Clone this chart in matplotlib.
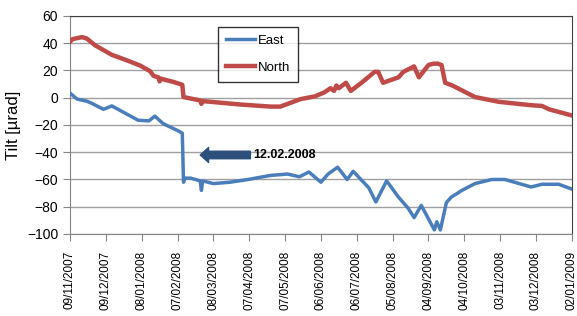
import numpy as np
import pandas as pd
import matplotlib
matplotlib.use("Agg")
import matplotlib.pyplot as plt
import matplotlib.dates as mdates

plt.rcParams['font.family'] = ['Liberation Sans', 'DejaVu Sans']

# North tilt (red)
north_dates = ['2007-11-09', '2007-11-11', '2007-11-19', '2007-11-23', '2007-11-30',
               '2007-12-14', '2007-12-28', '2008-01-07', '2008-01-15', '2008-01-18',
               '2008-01-22', '2008-01-23', '2008-01-24', '2008-02-04', '2008-02-11',
               '2008-02-12', '2008-02-26', '2008-02-27', '2008-02-28', '2008-03-06',
               '2008-03-31', '2008-04-25', '2008-05-03', '2008-05-20', '2008-06-01',
               '2008-06-09', '2008-06-14', '2008-06-17', '2008-06-19', '2008-06-21',
               '2008-06-27', '2008-07-01', '2008-07-10', '2008-07-21', '2008-07-24',
               '2008-07-28', '2008-08-10', '2008-08-14', '2008-08-23', '2008-08-27',
               '2008-09-04', '2008-09-08', '2008-09-12', '2008-09-15', '2008-09-18',
               '2008-09-24', '2008-10-13', '2008-11-02', '2008-11-29', '2008-12-08',
               '2008-12-14', '2009-01-02']
north_vals = [41, 43, 44.5, 43.5, 38.5,
              31.5, 27, 23.5, 19.5, 16,
              15, 12, 14, 11.5, 9.5,
              0.5, -2, -4.5, -2.5, -3,
              -5, -6.5, -6.5, -1, 1,
              4, 7, 5, 9, 7,
              11, 5, 11, 19, 19,
              11, 15, 19, 23, 15,
              24, 25, 25, 24, 11,
              9, 0.5, -3, -5.5, -6,
              -8.5, -13]

# East tilt (blue)
east_dates = ['2007-11-09', '2007-11-15', '2007-11-23', '2007-11-27', '2007-12-07',
              '2007-12-14', '2008-01-05', '2008-01-14', '2008-01-19', '2008-01-26',
              '2008-02-08', '2008-02-11', '2008-02-12', '2008-02-13', '2008-02-18',
              '2008-02-26', '2008-02-27', '2008-02-28', '2008-03-08', '2008-03-22',
              '2008-04-06', '2008-04-25', '2008-05-09', '2008-05-19', '2008-05-27',
              '2008-06-06', '2008-06-12', '2008-06-20', '2008-06-28', '2008-07-03',
              '2008-07-16', '2008-07-22', '2008-07-31', '2008-08-10', '2008-08-18',
              '2008-08-23', '2008-08-29', '2008-09-09', '2008-09-11', '2008-09-14',
              '2008-09-19', '2008-09-23', '2008-10-02', '2008-10-13', '2008-10-27',
              '2008-11-07', '2008-11-29', '2008-12-08', '2008-12-22', '2009-01-02']
east_vals = [3.4, -1, -2.5, -4, -8.5,
             -6, -16.5, -17, -13.5, -19,
             -24.5, -26, -62, -59, -59,
             -61, -68, -61, -63, -62,
             -60, -57, -56, -58, -54.5,
             -62, -56, -51, -60, -54,
             -66, -76.5, -61, -73, -81,
             -88, -79, -97, -91, -97,
             -77, -73, -68, -63, -60,
             -60, -65.5, -63.5, -63.5, -67]

event_date = '2008-02-12'
tick_start, tick_end, tick_step = '2007-11-09', '2009-01-02', 30

nd = pd.to_datetime(north_dates)
ed = pd.to_datetime(east_dates)

fig = plt.figure(figsize=(5.77, 3.16), dpi=100)
ax = fig.add_axes([0.1213, 0.2595, 0.8697, 0.6899])

ax.plot(ed, east_vals, color='#4a7ebb', lw=2.5, label='East', zorder=3)
ax.plot(nd, north_vals, color='#be4b48', lw=3.2, label='North', zorder=3)

ticks = pd.date_range(tick_start, tick_end, freq=f'{tick_step}D')
ax.set_xticks(ticks)
ax.xaxis.set_major_formatter(mdates.DateFormatter('%d/%m/%Y'))
ax.set_xlim(ticks[0], ticks[-1])
plt.setp(ax.get_xticklabels(), rotation=90, fontsize=8.5)

ax.set_ylim(-100, 60)
ax.set_yticks(np.arange(-100, 61, 20))
ax.tick_params(axis='y', labelsize=10, length=5, color='#868686')
ax.tick_params(axis='x', length=5, pad=7, color='#868686')
ax.grid(axis='y', color='#a0a0a0', lw=1.0)
ax.set_axisbelow(True)
for s in ['left', 'bottom']:
    ax.spines[s].set_color('#868686')
for s in ['top', 'right']:
    ax.spines[s].set_color('#404040')

ax.set_ylabel('Tilt [µrad]', fontsize=12, labelpad=4)

leg = ax.legend(loc='upper left', bbox_to_anchor=(0.295, 0.95), fontsize=9.5,
                frameon=True, fancybox=False, edgecolor='black',
                handlelength=2.2, handletextpad=0.2, labelspacing=1.1,
                borderpad=0.6, borderaxespad=0)
leg.get_frame().set_linewidth(1.0)

ev = pd.Timestamp(event_date)
ax.annotate('', xy=(ev + pd.Timedelta(days=14), -42), xytext=(ev + pd.Timedelta(days=56), -42),
            arrowprops=dict(arrowstyle='simple,head_length=0.5,head_width=0.9,tail_width=0.45',
                            color='#2c4f7c', mutation_scale=12, shrinkA=0, shrinkB=0))
ax.text(ev + pd.Timedelta(days=58), -42, '12.02.2008', fontsize=9, fontweight='bold',
        va='center', ha='left')

fig.savefig('out.png', dpi=100)
